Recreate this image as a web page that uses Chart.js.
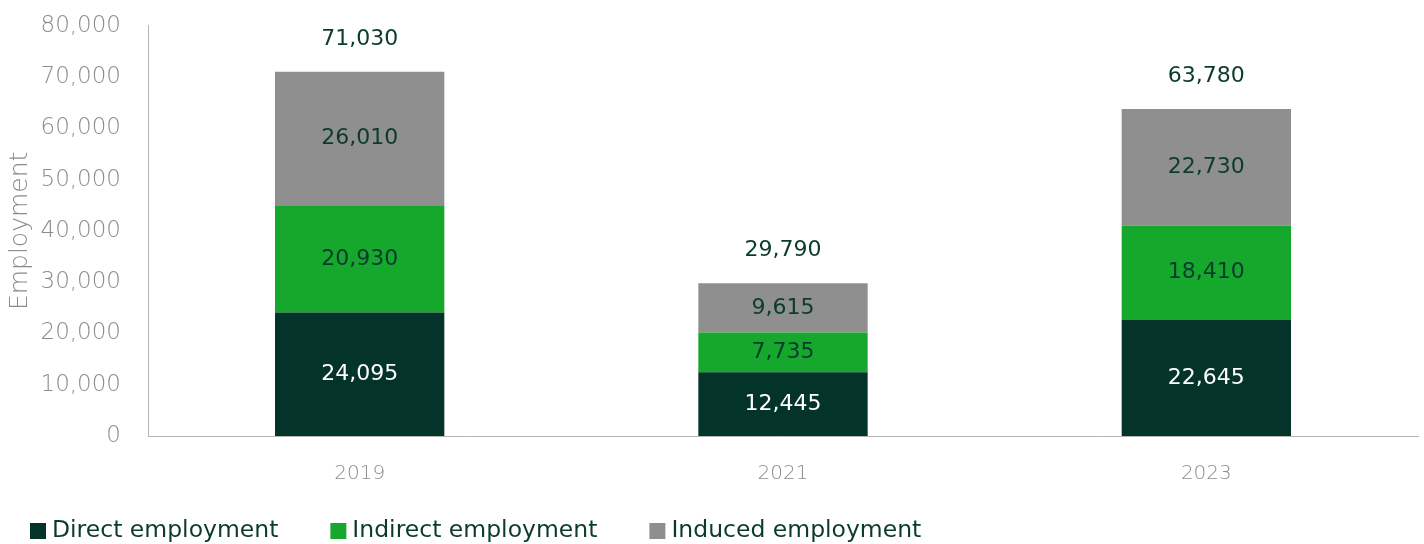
<!DOCTYPE html>
<html>
<head>
<meta charset="utf-8">
<script src="https://cdn.jsdelivr.net/npm/chart.js@4.4.1/dist/chart.umd.min.js"></script>
<style>
html,body{margin:0;padding:0;background:#fff;overflow:hidden;}
#wrap{width:1424px;height:544px;position:relative;overflow:hidden;}
#c{position:absolute;left:0;top:-15px;}
</style>
</head>
<body>
<div id="wrap"><canvas id="c" width="1424" height="559"></canvas></div>
<script>
const categories = ['2019', '2021', '2023'];
const directEmployment = [24095, 12445, 22645];
const indirectEmployment = [20930, 7735, 18410];
const inducedEmployment = [26010, 9615, 22730];
const totals = [71030, 29790, 63780];
const seriesNames = ['Direct employment', 'Indirect employment', 'Induced employment'];
const yTicks = [0, 10000, 20000, 30000, 40000, 50000, 60000, 70000, 80000];

const FONT = '"DejaVu Sans", sans-serif';
const WEIGHT = '400';
const TICKW = '300';
const colors = ['#04332a', '#16a82c', '#8f8f8f'];
const labelColors = ['#ffffff', '#0b3b2f', '#0b3b2f'];
const fmt = v => v.toLocaleString('en-US');

const labelsPlugin = {
  id: 'segLabels',
  afterDatasetsDraw(chart) {
    const ctx = chart.ctx;
    ctx.save();
    ctx.font = WEIGHT + ' 22px ' + FONT;
    ctx.textAlign = 'center';
    ctx.textBaseline = 'middle';
    chart.data.datasets.forEach((ds, di) => {
      const meta = chart.getDatasetMeta(di);
      meta.data.forEach((bar, i) => {
        const y = (bar.y + bar.base) / 2;
        ctx.fillStyle = labelColors[di];
        ctx.fillText(fmt(ds.data[i]), bar.x, y);
      });
    });
    const ys = chart.scales.y;
    const xs = chart.scales.x;
    ctx.fillStyle = '#0b3b2f';
    totals.forEach((t, i) => {
      ctx.fillText(fmt(t), xs.getPixelForValue(i), ys.getPixelForValue(t) - 33);
    });
    ctx.restore();
  }
};

const legendPlugin = {
  id: 'customLegend',
  afterDraw(chart) {
    const ctx = chart.ctx;
    ctx.save();
    ctx.font = WEIGHT + ' 23.5px ' + FONT;
    ctx.textBaseline = 'middle';
    ctx.textAlign = 'left';
    let x = 30;
    const y = chart.height - 13;
    chart.data.datasets.forEach((ds, di) => {
      ctx.fillStyle = ds.backgroundColor;
      ctx.fillRect(x, y - 8, 16, 16);
      ctx.fillStyle = '#0b3b2f';
      ctx.fillText(ds.label, x + 22, y);
      x += 22 + ctx.measureText(ds.label).width + 52;
    });
    ctx.restore();
  }
};

new Chart(document.getElementById('c'), {
  type: 'bar',
  data: {
    labels: categories,
    datasets: [
      { label: seriesNames[0], data: directEmployment, backgroundColor: colors[0] },
      { label: seriesNames[1], data: indirectEmployment, backgroundColor: colors[1] },
      { label: seriesNames[2], data: inducedEmployment, backgroundColor: colors[2] }
    ]
  },
  options: {
    responsive: false,
    animation: false,
    layout: { padding: { top: 0, right: 6, bottom: 60, left: 0 } },
    datasets: { bar: { barPercentage: 0.4, categoryPercentage: 1 } },
    plugins: { legend: { display: false }, tooltip: { enabled: false } },
    scales: {
      x: {
        stacked: true,
        grid: { display: false, drawTicks: false },
        border: { color: '#b5b5b5', width: 1 },
        ticks: { color: '#8c8c8c', font: { family: FONT, size: 20, weight: TICKW }, padding: 26 },
        afterFit(s) { s.height = 48; }
      },
      y: {
        stacked: true,
        min: 0, max: 80000,
        afterBuildTicks(s) { s.ticks = yTicks.map(v => ({ value: v })); },
        grid: { display: false, drawTicks: false },
        border: { color: '#b5b5b5', width: 1 },
        ticks: { color: '#8c8c8c', font: { family: FONT, size: 23, weight: TICKW }, padding: 27, callback: v => fmt(v) },
        title: { display: true, text: 'Employment', color: '#8c8c8c', font: { family: FONT, size: 25, weight: TICKW }, padding: { top: 5, bottom: 0 } },
        afterFit(s) { s.width = 148; }
      }
    }
  },
  plugins: [labelsPlugin, legendPlugin]
});
</script>
</body>
</html>
